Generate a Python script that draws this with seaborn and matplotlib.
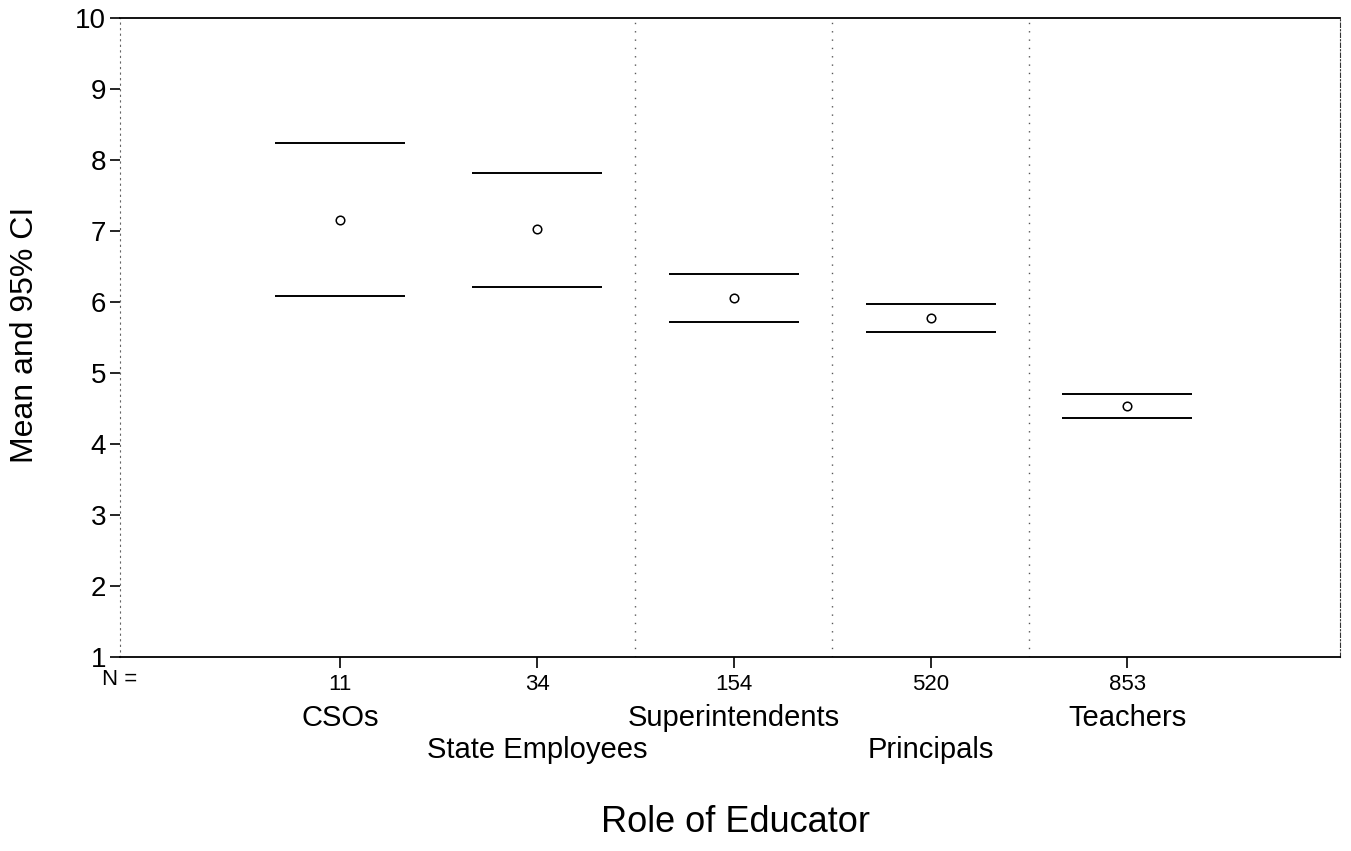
import numpy as np
import pandas as pd
import seaborn as sns
import matplotlib.pyplot as plt

# mean and 95% CI per role
roles = ["CSOs", "State Employees", "Superintendents", "Principals", "Teachers"]
n_counts = [11, 34, 154, 520, 853]
means = [7.16, 7.02, 6.06, 5.78, 4.54]
ci_low = [6.08, 6.21, 5.72, 5.58, 4.37]
ci_high = [8.24, 7.82, 6.39, 5.97, 4.70]

sns.set_style("white")
plt.rcParams['font.family'] = ['Liberation Sans', 'DejaVu Sans']
plt.rcParams['text.color'] = 'black'
plt.rcParams['xtick.color'] = 'black'
plt.rcParams['ytick.color'] = 'black'

df = pd.DataFrame({"role": roles, "n": n_counts, "mean": means,
                   "lo": ci_low, "hi": ci_high})
df["pos"] = np.arange(len(df))

fig = plt.figure(figsize=(13.51, 8.51), dpi=100)
ax = fig.add_axes([0.0888, 0.228, 0.903, 0.751])

# faint scan-like dotted lines between groups
for xv in [1.5, 2.5, 3.5]:
    ax.axvline(xv, color="0.35", lw=1, ls=(0, (1, 5)), zorder=0)

half = 0.33
ax.hlines(df["hi"], df["pos"] - half, df["pos"] + half, color="black", lw=1.4)
ax.hlines(df["lo"], df["pos"] - half, df["pos"] + half, color="black", lw=1.4)
sns.scatterplot(data=df, x="pos", y="mean", marker="o", s=38, color="black",
                facecolor="white", edgecolor="black", linewidth=1.1, ax=ax, zorder=3)

ax.set_xlim(-1.12, 5.08)
ax.set_ylim(1, 10)
ax.set_yticks(range(1, 11))
ax.set_yticklabels([str(v) for v in range(1, 11)], fontsize=20)
ax.set_xticks(df["pos"])
ax.set_xticklabels([str(v) for v in n_counts], fontsize=16)
ax.tick_params(axis="y", direction="out", length=7, width=1.2, pad=3, left=True)
ax.tick_params(axis="x", direction="out", length=8, width=1.2, pad=4, bottom=True)
ax.set_xlabel("")
ax.set_ylabel("")

for side in ["top", "bottom"]:
    ax.spines[side].set_color("black")
    ax.spines[side].set_linewidth(1.3)
ax.spines["left"].set_color("0.4")
ax.spines["left"].set_linestyle((0, (1, 4)))
ax.spines["right"].set_color("0.2")
ax.spines["right"].set_linestyle((0, (4, 2, 1, 2)))

# staggered category names under the N row
trans = ax.get_xaxis_transform()
for i, role in enumerate(roles):
    yrow = -0.095 if i % 2 == 0 else -0.145
    ax.text(i, yrow, role, transform=trans, ha="center", va="center", fontsize=21)
ax.text(-1.12, -0.036, "N =", transform=trans, ha="center", va="center", fontsize=16)

fig.text(25 / 1351, 1 - 335 / 851, "Mean and 95% CI", rotation=90,
         ha="center", va="center", fontsize=23)
fig.text(735 / 1351, 1 - 823 / 851, "Role of Educator", ha="center",
         va="center", fontsize=26)

fig.savefig("out.png", dpi=100)
